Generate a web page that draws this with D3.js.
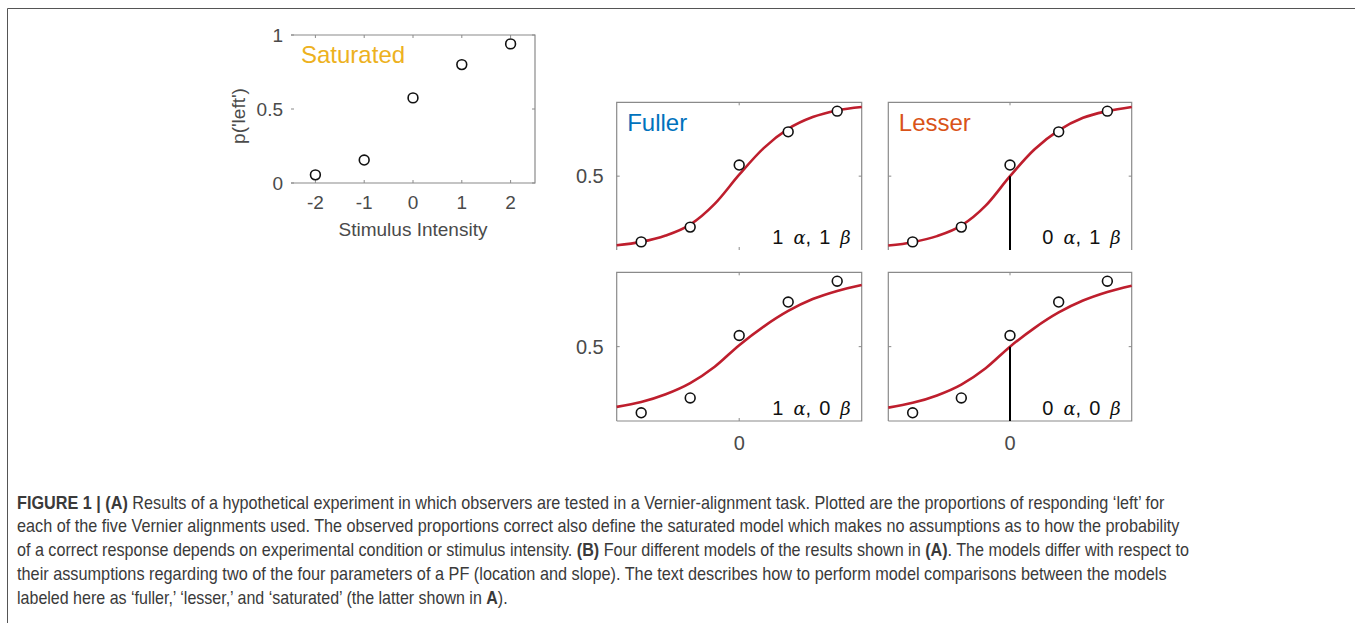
<!DOCTYPE html>
<html>
<head>
<meta charset="utf-8">
<script src="https://cdn.jsdelivr.net/npm/d3@7"></script>
<style>
  html, body { margin: 0; padding: 0; background: #fff; }
  svg { display: block; }
</style>
</head>
<body>
<svg id="chart" width="1355" height="623"></svg>
<script>
// ---------------- data ----------------
const intensities = [-2, -1, 0, 1, 2];
const pLeft = [0.055, 0.155, 0.575, 0.80, 0.94];
const xTicksA = [-2, -1, 0, 1, 2];
const yTicksA = [0, 0.5, 1];
const yTickLabelsA = ["0", "0.5", "1"];

// fitted model curves at these intensities
const curveX = [-2.5, -2, -1.5, -1, -0.5, 0, 0.5, 1, 1.5, 2, 2.5];
const fullerCurve = [0.032, 0.055, 0.098, 0.172, 0.312, 0.51, 0.69, 0.82, 0.9, 0.945, 0.968];
const lesserCurve = [0.03, 0.053, 0.094, 0.165, 0.3, 0.5, 0.68, 0.81, 0.895, 0.94, 0.968];
const oneAlphaZeroBetaCurve = [0.095, 0.128, 0.18, 0.255, 0.365, 0.51, 0.635, 0.74, 0.82, 0.875, 0.915];
const zeroAlphaZeroBetaCurve = [0.09, 0.122, 0.172, 0.245, 0.355, 0.5, 0.625, 0.73, 0.81, 0.868, 0.91];

const modelNames = ["Fuller", "Lesser", "", ""];
const modelLabels = [
  ["1", "α", "1", "β"],
  ["0", "α", "1", "β"],
  ["1", "α", "0", "β"],
  ["0", "α", "0", "β"]
];
const modelCurves = [fullerCurve, lesserCurve, oneAlphaZeroBetaCurve, zeroAlphaZeroBetaCurve];
const alphaFixed = [false, true, false, true];
const yTicksB = [0.5];
const xTicksB = [0];

const captionLines = [
  [["FIGURE 1 | (A)", true], [" Results of a hypothetical experiment in which observers are tested in a Vernier-alignment task. Plotted are the proportions of responding \u2018left\u2019 for", false]],
  [["each of the five Vernier alignments used. The observed proportions correct also define the saturated model which makes no assumptions as to how the probability", false]],
  [["of a correct response depends on experimental condition or stimulus intensity. ", false], ["(B)", true], [" Four different models of the results shown in ", false], ["(A)", true], [". The models differ with respect to", false]],
  [["their assumptions regarding two of the four parameters of a PF (location and slope). The text describes how to perform model comparisons between the models", false]],
  [["labeled here as \u2018fuller,\u2019 \u2018lesser,\u2019 and \u2018saturated\u2019 (the latter shown in ", false], ["A", true], [").", false]]
];
const captionLineWidths = [1148, 1163, 1173, 1150, 491];

// ---------------- styles ----------------
const spineColor = "#8a8a8a";
const tickTextColor = "#4a4a4a";
const curveColor = "#BE1E2D";
const sansFont = "'Liberation Sans', Arial, Helvetica, sans-serif";

const svg = d3.select("#chart");

// outer figure frame
svg.append("path")
  .attr("d", "M7.5,623 L7.5,8.5 L1355,8.5")
  .attr("fill", "none").attr("stroke", "#555").attr("stroke-width", 1);

// ---------------- panel A ----------------
{
  const x = d3.scaleLinear().domain([-2.5, 2.5]).range([291, 535]);
  const y = d3.scaleLinear().domain([0, 1]).range([183, 35]);
  const g = svg.append("g");

  g.append("path")
    .attr("d", `M${x(-2.5)},${y(1)} L${x(2.5)},${y(1)} L${x(2.5)},${y(0)} L${x(-2.5)},${y(0)}`)
    .attr("fill", "none").attr("stroke", spineColor).attr("stroke-width", 1.2);

  yTicksA.forEach((v, i) => {
    g.append("line").attr("x1", x(-2.5)).attr("x2", x(-2.5) + 3).attr("y1", y(v)).attr("y2", y(v))
      .attr("stroke", spineColor);
    g.append("line").attr("x1", x(2.5)).attr("x2", x(2.5) - 3).attr("y1", y(v)).attr("y2", y(v))
      .attr("stroke", spineColor);
    g.append("text").attr("x", x(-2.5) - 8).attr("y", y(v)).attr("dy", "0.35em")
      .attr("text-anchor", "end").attr("font-family", sansFont).attr("font-size", 19)
      .attr("fill", tickTextColor).text(yTickLabelsA[i]);
  });
  xTicksA.forEach(v => {
    g.append("line").attr("x1", x(v)).attr("x2", x(v)).attr("y1", y(0)).attr("y2", y(0) - 3)
      .attr("stroke", spineColor);
    g.append("line").attr("x1", x(v)).attr("x2", x(v)).attr("y1", y(1)).attr("y2", y(1) + 3)
      .attr("stroke", spineColor);
    g.append("text").attr("x", x(v)).attr("y", 202).attr("dy", "0.35em")
      .attr("text-anchor", "middle").attr("font-family", sansFont).attr("font-size", 19)
      .attr("fill", tickTextColor).text(String(v));
  });
  g.append("text").attr("x", (x(-2.5) + x(2.5)) / 2).attr("y", 229).attr("dy", "0.35em")
    .attr("text-anchor", "middle").attr("font-family", sansFont).attr("font-size", 19)
    .attr("fill", tickTextColor).text("Stimulus Intensity");
  g.append("text").attr("transform", `translate(238,116) rotate(-90)`).attr("dy", "0.35em")
    .attr("text-anchor", "middle").attr("font-family", sansFont).attr("font-size", 19)
    .attr("fill", tickTextColor).text("p('left')");

  g.append("text").attr("x", 301).attr("y", 62.5)
    .attr("font-family", sansFont).attr("font-size", 24)
    .attr("fill", "#EDB120").text("Saturated");

  g.selectAll("circle.pt").data(intensities).enter().append("circle")
    .attr("cx", d => x(d)).attr("cy", (d, i) => y(pLeft[i])).attr("r", 4.9)
    .attr("fill", "#fff").attr("stroke", "#111").attr("stroke-width", 1.6);
}

// ---------------- panel B ----------------
const panelBoxes = [
  {x0: 616.7, x1: 861.7, y0: 250, y1: 102.3, bottom: false},
  {x0: 888.3, x1: 1131.7, y0: 250, y1: 102.3, bottom: false},
  {x0: 616.7, x1: 861.7, y0: 421, y1: 272.3, bottom: true},
  {x0: 888.3, x1: 1131.7, y0: 421, y1: 272.3, bottom: true}
];

panelBoxes.forEach((b, k) => {
  const x = d3.scaleLinear().domain([-2.5, 2.5]).range([b.x0, b.x1]);
  const y = d3.scaleLinear().domain([0, 1]).range([b.y0, b.y1]);
  const g = svg.append("g");

  let d = `M${b.x0},${b.y0} L${b.x0},${b.y1} L${b.x1},${b.y1} L${b.x1},${b.y0}`;
  if (b.bottom) d += ` L${b.x0},${b.y0}`;
  g.append("path").attr("d", d).attr("fill", "none")
    .attr("stroke", spineColor).attr("stroke-width", 1.2);

  yTicksB.forEach(v => {
    g.append("line").attr("x1", b.x0).attr("x2", b.x0 + 3).attr("y1", y(v)).attr("y2", y(v)).attr("stroke", spineColor);
    g.append("line").attr("x1", b.x1).attr("x2", b.x1 - 3).attr("y1", y(v)).attr("y2", y(v)).attr("stroke", spineColor);
    if (k % 2 === 0) {
      g.append("text").attr("x", b.x0 - 13).attr("y", y(v)).attr("dy", "0.35em")
        .attr("text-anchor", "end").attr("font-family", sansFont).attr("font-size", 20)
        .attr("fill", tickTextColor).text(d3.format(".1f")(v));
    }
  });
  xTicksB.forEach(v => {
    g.append("line").attr("x1", x(v)).attr("x2", x(v)).attr("y1", b.y0).attr("y2", b.y0 - 3).attr("stroke", spineColor);
    g.append("line").attr("x1", x(v)).attr("x2", x(v)).attr("y1", b.y1).attr("y2", b.y1 + 3).attr("stroke", spineColor);
    if (k >= 2) {
      g.append("text").attr("x", x(v)).attr("y", 443).attr("dy", "0.35em")
        .attr("text-anchor", "middle").attr("font-family", sansFont).attr("font-size", 20)
        .attr("fill", tickTextColor).text(String(v));
    }
  });

  const curve = modelCurves[k];
  const line = d3.line().x((dd, i) => x(curveX[i])).y(dd => y(dd)).curve(d3.curveMonotoneX);
  g.append("path").datum(curve).attr("d", line)
    .attr("fill", "none").attr("stroke", curveColor).attr("stroke-width", 2.6);

  if (alphaFixed[k]) {
    const i0 = curveX.indexOf(0);
    g.append("line").attr("x1", x(0)).attr("x2", x(0)).attr("y1", y(0)).attr("y2", y(curve[i0]))
      .attr("stroke", "#000").attr("stroke-width", 2);
  }

  g.selectAll("circle.pt").data(intensities).enter().append("circle")
    .attr("cx", dd => x(dd)).attr("cy", (dd, i) => y(pLeft[i])).attr("r", 4.9)
    .attr("fill", "#fff").attr("stroke", "#111").attr("stroke-width", 1.6);

  if (modelNames[k]) {
    g.append("text").attr("x", b.x0 + 10.5).attr("y", 130.5)
      .attr("font-family", sansFont).attr("font-size", 24)
      .attr("fill", k === 0 ? "#0072BD" : "#D95319").text(modelNames[k]);
  }

  const lab = modelLabels[k];
  const t = g.append("text").attr("x", b.x1 - 11).attr("y", b.y0 - 6)
    .attr("text-anchor", "end").attr("font-size", 20).attr("fill", "#111")
    .attr("font-family", sansFont);
  t.append("tspan").text(lab[0]);
  t.append("tspan").attr("dx", 10).attr("font-family", "'DejaVu Serif', serif").attr("font-style", "italic").attr("font-size", 18).text(lab[1]);
  t.append("tspan").text(",");
  t.append("tspan").attr("dx", 8).text(lab[2]);
  t.append("tspan").attr("dx", 10).attr("font-family", "'DejaVu Serif', serif").attr("font-style", "italic").attr("font-size", 18).text(lab[3]);
});

// ---------------- caption ----------------
// condensed look: each line is scaled horizontally to the width it has in the figure
const cap = svg.append("g").attr("font-family", "'Liberation Sans Narrow', 'Arial Narrow', 'Liberation Sans', sans-serif")
  .attr("font-size", 18).attr("fill", "#3a3a3a");
captionLines.forEach((segs, i) => {
  const lineG = cap.append("g");
  const t = lineG.append("text").attr("x", 0).attr("y", 0).attr("xml:space", "preserve");
  segs.forEach(([s, bold]) => {
    t.append("tspan").attr("font-weight", bold ? "bold" : "normal").text(s);
  });
  const natural = t.node().getComputedTextLength();
  const sx = natural > 0 ? captionLineWidths[i] / natural : 1;
  lineG.attr("transform", `translate(17,${508.5 + i * 23.9}) scale(${sx},1)`);
});
</script>
</body>
</html>
